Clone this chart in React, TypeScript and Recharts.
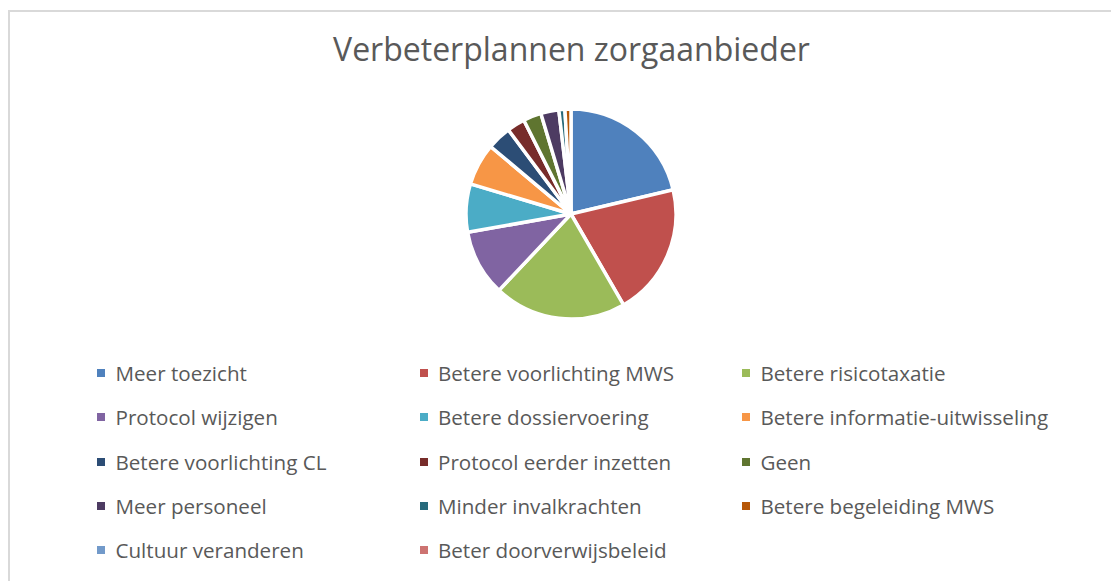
import React from "react";
import { PieChart, Pie, Cell, Legend } from "recharts";

const categories = [
  "Meer toezicht",
  "Betere voorlichting MWS",
  "Betere risicotaxatie",
  "Protocol wijzigen",
  "Betere dossiervoering",
  "Betere informatie-uitwisseling",
  "Betere voorlichting CL",
  "Protocol eerder inzetten",
  "Geen",
  "Meer personeel",
  "Minder invalkrachten",
  "Betere begeleiding MWS",
  "Cultuur veranderen",
  "Beter doorverwijsbeleid",
];

const values = [23, 22, 22, 11, 8, 7, 4, 3, 3, 3, 1, 1, 0, 0];

const colors = [
  "#4F81BD",
  "#C0504D",
  "#9BBB59",
  "#8064A2",
  "#4BACC6",
  "#F79646",
  "#2C4D75",
  "#772C2A",
  "#5F7530",
  "#4D3B62",
  "#276A7C",
  "#B65708",
  "#729ACA",
  "#CD7371",
];

const data = categories.map((name, i) => ({ name, value: values[i] }));

const FONT = "'Open Sans', sans-serif";

const renderLegend = () => (
  <div style={{ position: "relative", width: 1111, height: 220 }}>
    {categories.map((name, i) => {
      const col = i % 3;
      const row = Math.floor(i / 3);
      return (
        <div
          key={name}
          style={{
            position: "absolute",
            left: 89 + col * 322.5,
            top: row * 44.25 - 2,
            height: 20,
            display: "flex",
            alignItems: "center",
            whiteSpace: "nowrap",
            fontFamily: FONT,
            fontSize: 20.6,
            color: "#595959",
          }}
        >
          <span
            style={{
              display: "inline-block",
              width: 8,
              height: 8,
              background: colors[i],
              marginRight: 10.5,
            }}
          />
          {name}
        </div>
      );
    })}
  </div>
);

export default function App() {
  return (
    <div style={{ paddingTop: 2 }}>
      <div
        style={{
          position: "relative",
          width: 1111,
          height: 571,
          borderTop: "2px solid #d9d9d9",
          borderLeft: "2px solid #d9d9d9",
          boxSizing: "border-box",
          background: "#fff",
        }}
      >
        <div
          style={{
            position: "absolute",
            left: 6,
            width: 1111,
            top: 15,
            textAlign: "center",
            fontFamily: FONT,
            fontSize: 32,
            color: "#595959",
            whiteSpace: "nowrap",
          }}
        >
          Verbeterplannen zorgaanbieder
        </div>
        <div style={{ position: "absolute", left: -2, top: -2 }}>
          <PieChart width={1111} height={571}>
            <Pie
              data={data}
              dataKey="value"
              nameKey="name"
              cx={558}
              cy={199}
              outerRadius={105}
              startAngle={90}
              endAngle={-270}
              stroke="#ffffff"
              strokeWidth={3.5}
              isAnimationActive={false}
            >
              {data.map((d, i) => (
                <Cell key={d.name} fill={colors[i]} />
              ))}
            </Pie>
            <Legend
              content={renderLegend}
              wrapperStyle={{ position: "absolute", left: 0, top: 355, width: 1111 }}
            />
          </PieChart>
        </div>
      </div>
    </div>
  );
}
